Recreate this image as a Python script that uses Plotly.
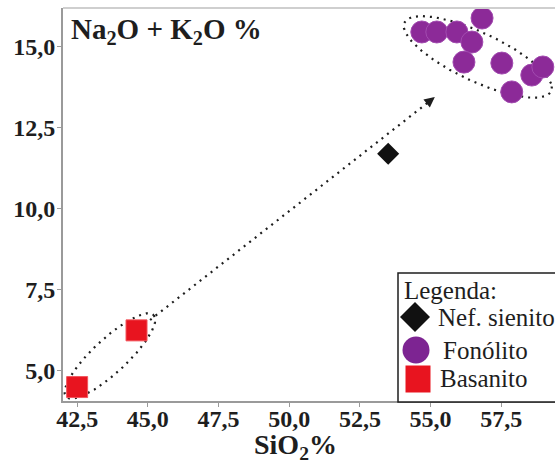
import numpy as np
import plotly.graph_objects as go

# ---- data (SiO2 % vs Na2O + K2O %) ----
basanito_x = [42.5, 44.6]
basanito_y = [4.5, 6.25]

nef_sienito_x = [53.5]
nef_sienito_y = [11.7]

fonolito_x = [54.69, 55.22, 55.93, 56.46, 56.82, 56.18, 57.52, 57.87, 58.58, 58.97]
fonolito_y = [15.46, 15.46, 15.46, 15.15, 15.89, 14.53, 14.50, 13.61, 14.13, 14.38]

x_tick_vals = [42.5, 45.0, 47.5, 50.0, 52.5, 55.0, 57.5]
x_tick_text = ["42,5", "45,0", "47,5", "50,0", "52,5", "55,0", "57,5"]
y_tick_vals = [5.0, 7.5, 10.0, 12.5, 15.0]
y_tick_text = ["5,0", "7,5", "10,0", "12,5", "15,0"]

# ---- layout geometry ----
W, H = 555, 470
ML, MR, MT, MB = 63, 0, 8, 69
X_RANGE = [42.0, 59.4]
Y_RANGE = [4.07, 16.2]
PW, PH = W - ML - MR, H - MT - MB

SERIF = "Liberation Serif"
DOT = "2px,5px"
INK = "#1e1e1e"


def paper_x(px):
    return (px - ML) / PW


def paper_y(py):
    return (H - MB - py) / PH


def ellipse(cx, cy, u, v, n=200):
    t = np.linspace(0, 2 * np.pi, n)
    xs = cx + u[0] * np.cos(t) + v[0] * np.sin(t)
    ys = cy + u[1] * np.cos(t) + v[1] * np.sin(t)
    return xs, ys


fig = go.Figure()

# dotted outlines grouping each rock type
ex, ey = ellipse(43.66, 5.46, (1.55, 1.26), (0.41, -0.383))
fig.add_trace(go.Scatter(x=ex, y=ey, mode="lines", hoverinfo="skip",
                         line=dict(color=INK, width=2.2, dash=DOT)))
ex, ey = ellipse(56.67, 14.69, (2.59, -0.82), (-0.40, 0.957))
fig.add_trace(go.Scatter(x=ex, y=ey, mode="lines", hoverinfo="skip",
                         line=dict(color=INK, width=2.2, dash=DOT)))

# evolution trend line
trend_x = [45.08, 55.15]
trend_y = [6.57, 13.45]
fig.add_trace(go.Scatter(x=trend_x, y=trend_y, mode="lines", hoverinfo="skip",
                         line=dict(color=INK, width=2.2, dash=DOT)))
fig.add_annotation(x=trend_x[1], y=trend_y[1], ax=trend_x[1] - 0.35,
                   ay=trend_y[1] - 0.35 * (trend_y[1] - trend_y[0]) / (trend_x[1] - trend_x[0]),
                   xref="x", yref="y", axref="x", ayref="y", text="",
                   showarrow=True, arrowhead=2, arrowsize=1.3, arrowwidth=1.6,
                   arrowcolor=INK)

# samples
fig.add_trace(go.Scatter(x=basanito_x, y=basanito_y, mode="markers", name="Basanito",
                         marker=dict(symbol="square", size=21, color="#e8141f",
                                     line=dict(color="#f2555c", width=1))))
fig.add_trace(go.Scatter(x=fonolito_x, y=fonolito_y, mode="markers", name="Fonólito",
                         marker=dict(symbol="circle", size=22, color="#8c2a98",
                                     line=dict(color="#a24bb0", width=1))))
fig.add_trace(go.Scatter(x=nef_sienito_x, y=nef_sienito_y, mode="markers", name="Nef. sienito",
                         marker=dict(symbol="diamond", size=17, color="#111")))


def key_box(cx, cy, hw, hh):
    return dict(x0=paper_x(cx - hw), x1=paper_x(cx + hw),
                y0=paper_y(cy + hh), y1=paper_y(cy - hh))


shapes = []
# light top border of the plot frame
shapes.append(dict(type="line", xref="paper", yref="paper", x0=0, x1=1, y0=1, y1=1,
                   line=dict(color="#cfcfcf", width=2)))

# legend box
shapes.append(dict(type="rect", xref="paper", yref="paper",
                   x0=paper_x(398), x1=paper_x(570), y0=paper_y(402), y1=paper_y(273),
                   line=dict(color=INK, width=1.5), fillcolor="white"))
# legend keys
dcx, dcy, dr = 415, 317, 15
diamond_path = "M {} {} L {} {} L {} {} L {} {} Z".format(
    paper_x(dcx - dr), paper_y(dcy), paper_x(dcx), paper_y(dcy - dr),
    paper_x(dcx + dr), paper_y(dcy), paper_x(dcx), paper_y(dcy + dr))
shapes.append(dict(type="path", xref="paper", yref="paper", path=diamond_path,
                   fillcolor="#111", line=dict(width=0)))
shapes.append(dict(type="circle", xref="paper", yref="paper",
                   fillcolor="#7d2492", line=dict(width=0), **key_box(416, 350, 13.5, 13.5)))
shapes.append(dict(type="rect", xref="paper", yref="paper",
                   fillcolor="#e8141f", line=dict(width=0), **key_box(418, 379, 12.5, 13.5)))

legend_items = [
    ("Legenda:", 402, 290),
    ("Nef. sienito", 436, 317),
    ("Fonólito", 441, 350),
    ("Basanito", 438, 378),
]
for label, lx, ly in legend_items:
    fig.add_annotation(text=label, x=paper_x(lx), y=paper_y(ly),
                       xref="paper", yref="paper", xanchor="left", yanchor="middle",
                       showarrow=False, font=dict(family=SERIF, size=25, color=INK))

# y-axis title placed inside the frame, x-axis title below
fig.add_annotation(text="<b>Na<sub>2</sub>O + K<sub>2</sub>O %</b>", xref="paper", yref="paper",
                   x=paper_x(69), y=paper_y(31), xanchor="left", yanchor="middle",
                   showarrow=False, font=dict(family=SERIF, size=29, color=INK))
fig.add_annotation(text="<b>SiO<sub>2</sub>%</b>", xref="paper", yref="paper",
                   x=paper_x(295), y=paper_y(446), xanchor="center", yanchor="middle",
                   showarrow=False, font=dict(family=SERIF, size=28, color=INK))

axis_common = dict(showgrid=False, zeroline=False, showline=True, linecolor="#9a9a9a",
                   linewidth=2, ticks="outside", ticklen=4, tickwidth=1, tickcolor="#9a9a9a",
                   tickfont=dict(family=SERIF, size=24, color=INK))

fig.update_layout(
    template="none",
    width=W, height=H,
    margin=dict(l=ML, r=MR, t=MT, b=MB, pad=0),
    paper_bgcolor="white", plot_bgcolor="white",
    font=dict(family=SERIF, color=INK),
    showlegend=False,
    shapes=shapes,
    xaxis=dict(range=X_RANGE, tickvals=x_tick_vals, ticklabelstandoff=-9,
               ticktext=[f"<b>{t}</b>" for t in x_tick_text], **axis_common),
    yaxis=dict(range=Y_RANGE, tickvals=y_tick_vals, ticklabelstandoff=-3,
               ticktext=[f"<b>{t}</b>" for t in y_tick_text], **axis_common),
)

fig.write_html("out.html")
